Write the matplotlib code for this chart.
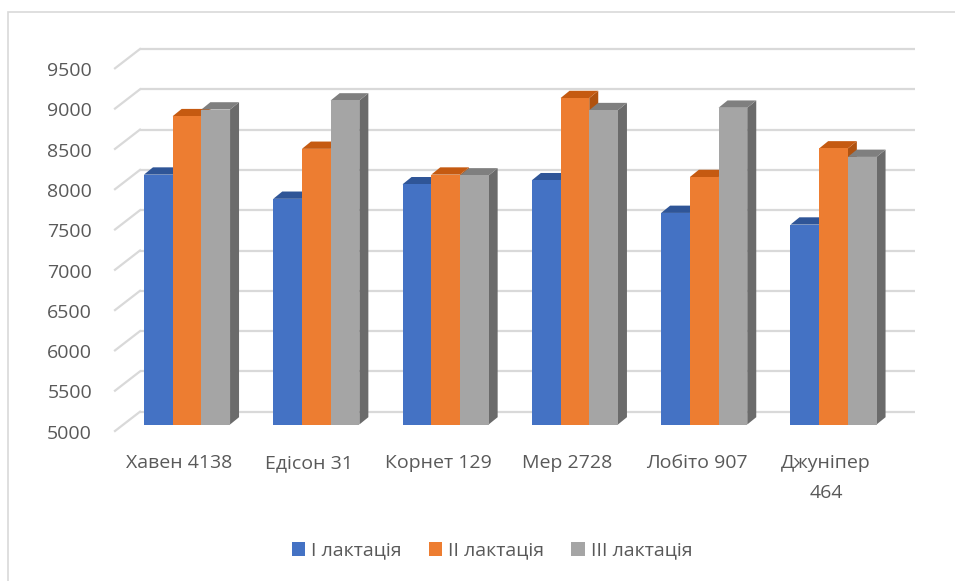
import matplotlib
matplotlib.use("Agg")
import matplotlib.pyplot as plt
from matplotlib.patches import Polygon, Rectangle, Patch

plt.rcParams['font.family'] = ['Open Sans', 'DejaVu Sans']

categories = ['Хавен 4138', 'Едісон 31', 'Корнет 129', 'Мер 2728', 'Лобіто 907', 'Джуніпер\n464']
series_names = ['І лактація', 'ІІ лактація', 'ІІІ лактація']
lact1 = [8100, 7800, 7980, 8030, 7625, 7480]
lact2 = [8825, 8420, 8100, 9050, 8070, 8425]
lact3 = [8908, 9020, 8090, 8900, 8930, 8320]
yticks = [5000, 5500, 6000, 6500, 7000, 7500, 8000, 8500, 9000, 9500]

front_cols = ['#4472C4', '#ED7D31', '#A5A5A5']
top_cols = ['#2F5597', '#C55A11', '#7F7F7F']
side_cols = ['#2B4F8C', '#B0520F', '#6B6B6B']
text_col = '#595959'
grid_col = '#D9D9D9'

W, H = 955, 581
fig = plt.figure(figsize=(W / 100, H / 100), dpi=100)
ax = fig.add_axes([0, 0, 1, 1])
ax.axis('off')

# pixel <-> data scale
SX = 129.3            # px per category
SY = 40.3 / 500.0     # px per value unit
X0 = 187.0            # px of first category centre
YB = 424.5            # px (from top) of base 5000
BASE = yticks[0]
ax.set_xlim(-X0 / SX, (W - X0) / SX)
ax.set_ylim(BASE - (H - YB) / SY, BASE + YB / SY)

def dx(px):
    return px / SX

def dy(px):
    return px / SY

# back wall gridlines + left wall diagonals
back_left = dx(140 - X0)
back_right = dx(915 - X0)
front_left = dx(115 - X0)
for v in yticks:
    yb = v + dy(12.8)
    ax.plot([back_left, back_right], [yb, yb], color=grid_col, lw=1.6, zorder=0,
            solid_capstyle='butt')
    ax.plot([front_left, back_left], [v - dy(6.5), yb], color=grid_col, lw=1.6, zorder=0)
    ax.text(dx(92 - X0), v - dy(7.3), f'{v}', ha='right', va='center_baseline',
            fontsize=14, color=text_col)

# 3D-looking bars
w = dx(28.7)
ddx, ddy = dx(9), dy(7.3)
series = [lact1, lact2, lact3]
for i in range(len(categories)):
    for j, vals in enumerate(series):
        v = vals[i]
        xc = i + (j - 1) * w
        l, r = xc - w / 2, xc + w / 2
        z = 2 + j * 3
        ax.bar(xc, v - BASE, bottom=BASE, width=w, color=front_cols[j], zorder=z + 2,
               linewidth=0)
        ax.add_patch(Polygon([(r, BASE), (r + ddx, BASE + ddy), (r + ddx, v + ddy), (r, v)],
                             closed=True, facecolor=side_cols[j], edgecolor='none', zorder=z))
        ax.add_patch(Polygon([(l, v), (r, v), (r + ddx, v + ddy), (l + ddx, v + ddy)],
                             closed=True, facecolor=top_cols[j], edgecolor='none', zorder=z + 1))

# category labels (one text per line, 30 px apart)
for i, c in enumerate(categories):
    for k, line in enumerate(c.split('\n')):
        ax.text(i + dx(-7.5), BASE - dy(44 + 30 * k), line, ha='center', va='baseline',
                fontsize=14, color=text_col)

# chart border
fig.add_artist(Rectangle((7.5 / W, -0.1), 1.2, (H - 12.5) / H + 0.1, transform=fig.transFigure,
                         facecolor='none', edgecolor=grid_col, lw=1.2))

handles = [Patch(facecolor=c, edgecolor='none') for c in front_cols]
fig.legend(handles, series_names, loc='center', bbox_to_anchor=(492 / W, 1 - 550.7 / H),
           ncol=3, frameon=False, fontsize=14, labelcolor=text_col,
           handlelength=0.7, handleheight=0.7, handletextpad=0.3, columnspacing=1.4)

fig.savefig('out.png', dpi=100)
